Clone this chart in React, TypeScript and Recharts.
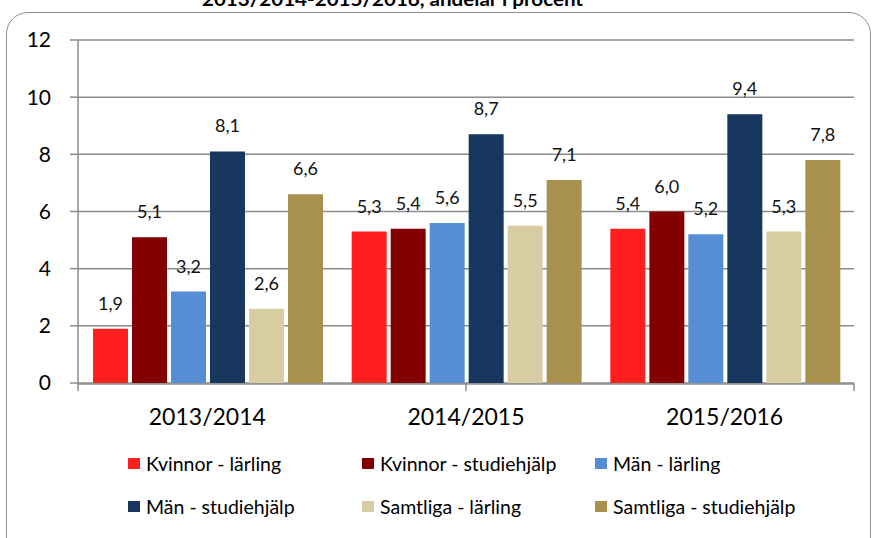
import React from 'react';
import { BarChart, Bar, XAxis, YAxis, CartesianGrid, LabelList } from 'recharts';

const categories = ['2013/2014', '2014/2015', '2015/2016'];
const seriesNames = [
  'Kvinnor - lärling',
  'Kvinnor - studiehjälp',
  'Män - lärling',
  'Män - studiehjälp',
  'Samtliga - lärling',
  'Samtliga - studiehjälp',
];
const kvinnorLarling = [1.9, 5.3, 5.4];
const kvinnorStudiehjalp = [5.1, 5.4, 6.0];
const manLarling = [3.2, 5.6, 5.2];
const manStudiehjalp = [8.1, 8.7, 9.4];
const samtligaLarling = [2.6, 5.5, 5.3];
const samtligaStudiehjalp = [6.6, 7.1, 7.8];
const yTicks = [0, 2, 4, 6, 8, 10, 12];
const boundaryTicks = [0, 1, 2, 3];
const titleText = '2013/2014-2015/2016, andelar i procent';

const seriesValues = [
  kvinnorLarling,
  kvinnorStudiehjalp,
  manLarling,
  manStudiehjalp,
  samtligaLarling,
  samtligaStudiehjalp,
];
const colors = ['#FF1F1F', '#820000', '#558ED5', '#17375E', '#D8CCA2', '#A8914C'];
const keys = ['s0', 's1', 's2', 's3', 's4', 's5'];

const data = categories.map((cat, i) => {
  const row: any = { cat };
  keys.forEach((k, j) => {
    row[k] = seriesValues[j][i];
  });
  return row;
});

const FONT = 'Lato, "Open Sans", sans-serif';
const GRAY = '#8c8c8c';

const fmt = (v: any) => Number(v).toFixed(1).replace('.', ',');

const legendCols = [128, 362, 595];
const legendRows = [457, 500];

export default function App() {
  return (
    <div
      style={{
        position: 'fixed',
        left: 0,
        top: 0,
        width: 873,
        height: 538,
        overflow: 'hidden',
        background: '#fff',
        fontFamily: FONT,
      }}
    >
      <div
        style={{
          position: 'absolute',
          left: 6,
          top: 12,
          width: 863,
          height: 620,
          border: `1.5px solid ${GRAY}`,
          borderRadius: 22,
        }}
      />
      <svg style={{ position: 'absolute', left: 0, top: 0 }} width={873} height={30}>
        <text
          x={202}
          y={6}
          textLength={381}
          lengthAdjust="spacingAndGlyphs"
          fontFamily={FONT}
          fontWeight="bold"
          fontSize={19}
          fill="#000"
        >
          {titleText}
        </text>
      </svg>
      <div style={{ position: 'absolute', left: 0, top: 0 }}>
        <BarChart
          width={873}
          height={538}
          data={data}
          margin={{ top: 40, right: 19, bottom: 114, left: 0 }}
          barCategoryGap={15}
          barGap={4}
        >
          <CartesianGrid vertical={false} stroke={GRAY} strokeWidth={1.5} xAxisId={1} />
          <XAxis
            xAxisId={0}
            type="number"
            domain={[0, 3]}
            ticks={boundaryTicks}
            interval={0}
            axisLine={false}
            tickSize={8}
            tickLine={{ stroke: GRAY, strokeWidth: 1.5 }}
            tickFormatter={() => ''}
            height={1}
            allowDataOverflow
          />
          <XAxis
            xAxisId={1}
            dataKey="cat"
            axisLine={{ stroke: GRAY, strokeWidth: 1.5 }}
            tickLine={false}
            tickSize={0}
            tickMargin={25}
            height={40}
            tick={{ fontSize: 23, fill: '#000', fontFamily: FONT }}
          />
          <YAxis
            width={78}
            domain={[0, 12]}
            ticks={yTicks}
            interval={0}
            axisLine={{ stroke: GRAY, strokeWidth: 1.5 }}
            tickLine={{ stroke: GRAY, strokeWidth: 1.5 }}
            tickSize={8}
            tickMargin={19}
            tick={{ fontSize: 21, fill: '#000', fontFamily: FONT }}
          />
          {keys.map((k, j) => (
            <Bar
              key={k}
              xAxisId={1}
              dataKey={k}
              name={seriesNames[j]}
              fill={colors[j]}
              isAnimationActive={false}
            >
              <LabelList
                dataKey={k}
                position="top"
                offset={19}
                formatter={fmt}
                style={{ fontSize: 18, fill: '#111', fontFamily: FONT }}
              />
            </Bar>
          ))}
        </BarChart>
      </div>
      {seriesNames.map((name, j) => {
        const col = j % 3;
        const row = Math.floor(j / 3);
        return (
          <div
            key={name}
            style={{
              position: 'absolute',
              left: legendCols[col],
              top: legendRows[row] - 6,
              height: 24,
              display: 'flex',
              alignItems: 'center',
              fontSize: 19.5,
              color: '#000',
              whiteSpace: 'nowrap',
            }}
          >
            <span
              style={{
                display: 'inline-block',
                width: 12,
                height: 11,
                background: colors[j],
                marginRight: 6,
              }}
            />
            <span>{name}</span>
          </div>
        );
      })}
    </div>
  );
}
